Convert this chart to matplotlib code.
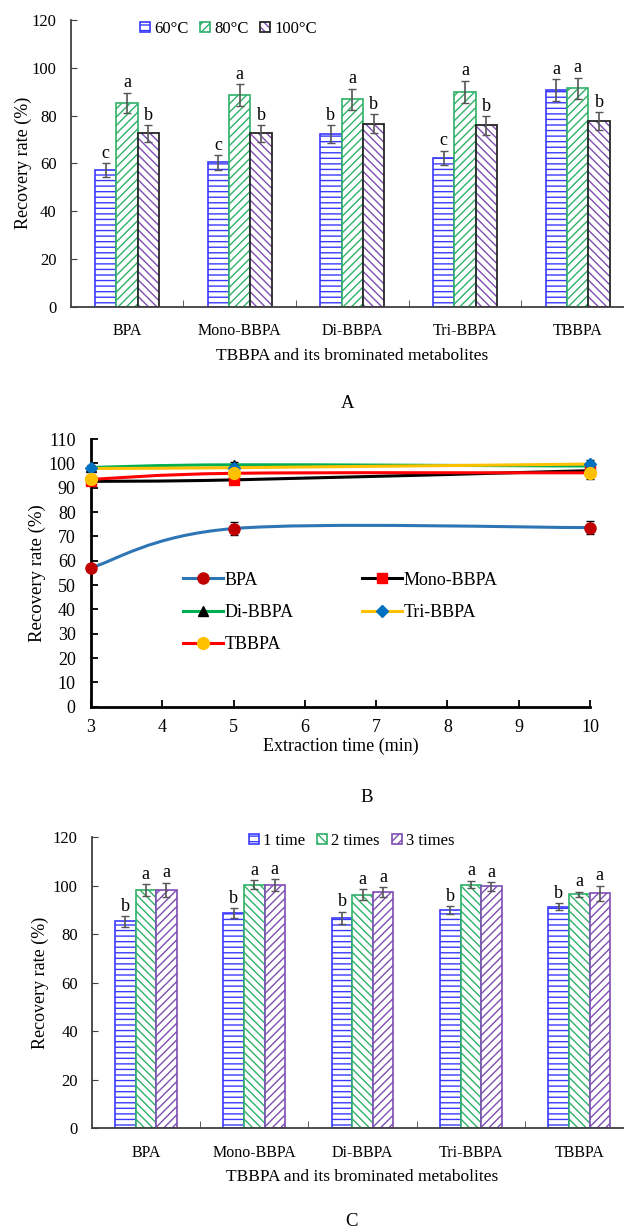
import numpy as np
import matplotlib
matplotlib.use("Agg")
import matplotlib.pyplot as plt
from matplotlib.path import Path
from matplotlib.patches import PathPatch

plt.rcParams['font.family'] = ['Liberation Serif', 'DejaVu Serif']
plt.rcParams['hatch.linewidth'] = 1.0

# ---------------- data ----------------
compounds = ["BPA", "Mono-BBPA", "Di-BBPA", "Tri-BBPA", "TBBPA"]

# panel A: extraction temperature
temp_labels = ["60°C", "80°C", "100°C"]
temp_60 = [57.2, 60.4, 72.3, 62.3, 90.7]
temp_80 = [85.3, 88.5, 86.8, 90.0, 91.4]
temp_100 = [72.5, 72.5, 76.6, 75.9, 77.7]
temp_60_err = [2.8, 3.0, 3.6, 3.0, 4.5]
temp_80_err = [4.3, 4.6, 4.5, 4.6, 4.5]
temp_100_err = [3.6, 3.6, 3.9, 3.9, 3.9]
temp_60_sig = ["c", "c", "b", "c", "a"]
temp_80_sig = ["a", "a", "a", "a", "a"]
temp_100_sig = ["b", "b", "b", "b", "b"]

# panel B: extraction time
times = [3, 5, 10]
bpa_t = [57.1, 73.2, 73.6]
mono_t = [92.6, 93.2, 97.0]
di_t = [98.3, 99.4, 98.9]
tri_t = [97.9, 98.2, 99.7]
tbbpa_t = [93.4, 95.9, 96.1]
bpa_t_err = [0.8, 2.7, 2.7]
mono_t_err = [1.0, 1.2, 1.5]
di_t_err = [1.0, 1.2, 1.2]
tri_t_err = [1.0, 1.2, 1.5]
tbbpa_t_err = [1.2, 1.5, 2.5]

# panel C: extraction cycles
cycle_labels = ["1 time", "2 times", "3 times"]
cyc_1 = [85.3, 88.7, 86.8, 89.8, 91.3]
cyc_2 = [98.2, 100.4, 96.3, 100.4, 96.4]
cyc_3 = [98.2, 100.1, 97.3, 99.7, 96.8]
cyc_1_err = [2.2, 1.9, 2.5, 1.6, 1.4]
cyc_2_err = [2.3, 1.9, 2.3, 1.6, 1.1]
cyc_3_err = [3.0, 2.5, 2.2, 1.8, 3.2]
cyc_1_sig = ["b", "b", "b", "b", "b"]
cyc_2_sig = ["a", "a", "a", "a", "a"]
cyc_3_sig = ["a", "a", "a", "a", "a"]

BLUE = "#3a3aff"
GREEN = "#2fb067"
PURPLE = "#7e4db3"
ERR = "#555555"

W, H = 624, 1231
fig = plt.figure(figsize=(W / 100, H / 100), dpi=100)


def px_axes(left, top, right, bottom):
    return fig.add_axes([left / W, 1 - bottom / H, (right - left) / W, (bottom - top) / H])


def style_bar_axes(ax, ymax, ylabelpad):
    ax.set_xlim(-0.5, 4.5)
    ax.set_ylim(0, ymax)
    ax.set_yticks(np.arange(0, ymax + 1, 20))
    ax.set_xticks(range(5))
    ax.set_xticklabels(compounds, fontsize=11.5)
    ax.set_xticks([0.5, 1.5, 2.5, 3.5], minor=True)
    ax.tick_params(axis='x', which='major', length=0, pad=12)
    ax.tick_params(axis='x', which='minor', direction='in', length=5, color='#404040')
    ax.tick_params(axis='y', direction='in', length=4, labelsize=12, pad=10, color='#404040')
    for s in ['top', 'right']:
        ax.spines[s].set_visible(False)
    for s in ['left', 'bottom']:
        ax.spines[s].set_color('#404040')
        ax.spines[s].set_linewidth(1.3)
    ax.set_ylabel("Recovery rate (%)", fontsize=13, labelpad=ylabelpad)
    ax.set_xlabel("TBBPA and its brominated metabolites", fontsize=12.5, labelpad=6)


def add_letters(ax, xs, vals, errs, sigs):
    for x, v, e, s in zip(xs, vals, errs, sigs):
        ax.text(x, v + e + 0.5, s, ha='center', va='bottom', fontsize=13)


# ---------------- panel A ----------------
axA = px_axes(70.6, 20, 634, 306.7)
x = np.arange(5)
bw = 0.19
hA1 = axA.bar(x - bw, temp_60, bw, color='white', edgecolor=BLUE, hatch='---', lw=1.2)
hA2 = axA.bar(x, temp_80, bw, color='white', edgecolor=GREEN, hatch='////', lw=1.2)
hA3a = axA.bar(x + bw, temp_100, bw, color='white', edgecolor=PURPLE, hatch='\\\\\\\\', lw=0)
hA3b = axA.bar(x + bw, temp_100, bw, fill=False, edgecolor='#262626', lw=1.3)
for off, vals, errs, sigs in [(-bw, temp_60, temp_60_err, temp_60_sig),
                              (0, temp_80, temp_80_err, temp_80_sig),
                              (bw, temp_100, temp_100_err, temp_100_sig)]:
    axA.errorbar(x + off, vals, yerr=errs, fmt='none', ecolor=ERR, elinewidth=1.2, capsize=3)
    add_letters(axA, x + off, vals, errs, sigs)
style_bar_axes(axA, 120, 0)
axA.legend([hA1, hA2, (hA3a, hA3b)], temp_labels, loc='center', bbox_to_anchor=(0.28, 0.969),
           ncol=3, frameon=False, fontsize=12, handlelength=0.6, handleheight=0.6,
           handletextpad=0.25, columnspacing=0.7)
fig.text(348 / W, 1 - 403 / H, "A", ha='center', va='center', fontsize=13.5)

# ---------------- panel B ----------------
axB = px_axes(91, 439, 590, 706.7)


def smooth_path(xs, ys):
    # Excel-like smoothed line: cubic Bezier with Catmull-Rom style tangents
    pts = np.column_stack([xs, ys]).astype(float)
    n = len(pts)
    verts = [pts[0]]
    codes = [Path.MOVETO]
    for i in range(n - 1):
        p0 = pts[i - 1] if i > 0 else pts[i]
        p1 = pts[i]
        p2 = pts[i + 1]
        p3 = pts[i + 2] if i + 2 < n else pts[i + 1]
        c1 = p1 + (p2 - p0) / 6.0
        c2 = p2 - (p3 - p1) / 6.0
        verts += [c1, c2, p2]
        codes += [Path.CURVE4] * 3
    return Path(verts, codes)


series = [
    ("BPA", bpa_t, bpa_t_err, "#2e75b6", "o", "#c00000", 8),
    ("Mono-BBPA", mono_t, mono_t_err, "#000000", "s", "#ff0000", 7.5),
    ("Di-BBPA", di_t, di_t_err, "#00b050", "^", "#000000", 7),
    ("Tri-BBPA", tri_t, tri_t_err, "#ffc000", "D", "#0070c0", 6.5),
    ("TBBPA", tbbpa_t, tbbpa_t_err, "#ff0000", "o", "#ffc000", 8.5),
]
handles = {}
for name, vals, errs, lc, mk, mc, ms in series:
    axB.add_patch(PathPatch(smooth_path(times, vals), fill=False, edgecolor=lc, lw=2.2, zorder=3))
    axB.errorbar(times, vals, yerr=errs, fmt='none', ecolor='black', elinewidth=0.9, capsize=3,
                 zorder=3, clip_on=False)
    axB.plot(times, vals, ls='none', marker=mk, ms=ms, mfc=mc, mec=mc, zorder=4, clip_on=False)
    handles[name] = axB.plot([], [], color=lc, lw=2.2, marker=mk, ms=ms, mfc=mc, mec=mc)[0]

axB.set_xlim(3, 10)
axB.set_ylim(0, 110)
axB.set_xticks(range(3, 11))
axB.set_yticks(range(0, 111, 10))
axB.tick_params(direction='in', length=5, width=1.3, labelsize=13)
axB.tick_params(axis='x', pad=9)
axB.tick_params(axis='y', pad=11)
for s in ['top', 'right']:
    axB.spines[s].set_visible(False)
for s in ['left', 'bottom']:
    axB.spines[s].set_linewidth(2)
axB.set_xlabel("Extraction time (min)", fontsize=13, labelpad=1)
axB.set_ylabel("Recovery rate (%)", fontsize=13.5, labelpad=2)
order = ["BPA", "Di-BBPA", "TBBPA", "Mono-BBPA", "Tri-BBPA"]
axB.legend([handles[k] for k in order], order, ncol=2, loc='center', bbox_to_anchor=(0.5, 0.352),
           frameon=False, fontsize=13, handlelength=2.2, handletextpad=0.1,
           labelspacing=0.85, columnspacing=3.8)
fig.text(367 / W, 1 - 798 / H, "B", ha='center', va='center', fontsize=13.5)

# ---------------- panel C ----------------
axC = px_axes(91.7, 837, 633.4, 1128.3)
hC1 = axC.bar(x - bw, cyc_1, bw, color='white', edgecolor=BLUE, hatch='---', lw=1.2)
hC2 = axC.bar(x, cyc_2, bw, color='white', edgecolor=GREEN, hatch='\\\\\\\\', lw=1.2)
hC3 = axC.bar(x + bw, cyc_3, bw, color='white', edgecolor=PURPLE, hatch='////', lw=1.2)
for off, vals, errs, sigs in [(-bw, cyc_1, cyc_1_err, cyc_1_sig),
                              (0, cyc_2, cyc_2_err, cyc_2_sig),
                              (bw, cyc_3, cyc_3_err, cyc_3_sig)]:
    axC.errorbar(x + off, vals, yerr=errs, fmt='none', ecolor=ERR, elinewidth=1.2, capsize=3)
    add_letters(axC, x + off, vals, errs, sigs)
style_bar_axes(axC, 120, 3)
axC.legend([hC1, hC2, hC3], cycle_labels, loc='center', bbox_to_anchor=(0.48, 0.986),
           ncol=3, frameon=False, fontsize=12, handlelength=0.6, handleheight=0.6,
           handletextpad=0.25, columnspacing=0.7)
fig.text(351 / W, 1 - 1221 / H, "C", ha='center', va='center', fontsize=13.5)

fig.savefig("out.png", dpi=100)
